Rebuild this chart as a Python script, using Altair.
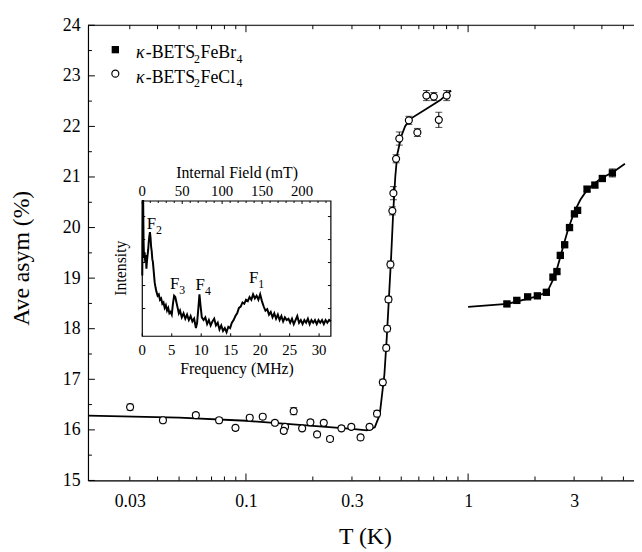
import altair as alt
import pandas as pd

FONT = "Liberation Serif"

# ---------------- data ----------------
# kappa-BETS2FeCl4 (open circles)
cl_T = [0.0301, 0.0423, 0.0595, 0.0757, 0.0897, 0.104, 0.119, 0.135, 0.150, 0.148,
        0.164, 0.179, 0.195, 0.209, 0.224, 0.239, 0.269, 0.298, 0.328, 0.360,
        0.389, 0.413, 0.428, 0.432, 0.438, 0.447, 0.456, 0.461, 0.474, 0.490,
        0.541, 0.591, 0.649, 0.701, 0.738, 0.801]
cl_A = [16.45, 16.19, 16.29, 16.19, 16.04, 16.24, 16.26, 16.14, 16.06, 15.98,
        16.37, 16.03, 16.15, 15.91, 16.14, 15.82, 16.03, 16.06, 15.85, 16.06,
        16.32, 16.94, 17.62, 18.00, 18.58, 19.27, 20.33, 20.68, 21.36, 21.76,
        22.12, 21.88, 22.61, 22.59, 22.13, 22.61]
cl_err = [0.06, 0.05, 0.05, 0.05, 0.05, 0.05, 0.05, 0.05, 0.05, 0.05,
          0.07, 0.05, 0.05, 0.05, 0.05, 0.05, 0.05, 0.05, 0.05, 0.05,
          0.06, 0.06, 0.06, 0.06, 0.06, 0.07, 0.08, 0.13, 0.08, 0.13,
          0.08, 0.08, 0.10, 0.08, 0.15, 0.10]

# kappa-BETS2FeBr4 (filled squares)
br_T = [1.495, 1.656, 1.853, 2.05, 2.25, 2.41, 2.51, 2.60, 2.72, 2.86,
        3.01, 3.11, 3.43, 3.72, 4.02, 4.46]
br_A = [18.49, 18.56, 18.63, 18.65, 18.72, 19.02, 19.13, 19.45, 19.66, 20.00,
        20.27, 20.34, 20.76, 20.84, 20.97, 21.08]
br_err = [0.04, 0.04, 0.04, 0.04, 0.04, 0.04, 0.04, 0.04, 0.04, 0.04,
          0.05, 0.05, 0.05, 0.05, 0.05, 0.08]

# fitted curves
clfit_T = [0.01945, 0.05, 0.1, 0.2, 0.3, 0.35, 0.38, 0.40, 0.42, 0.43, 0.44, 0.45,
           0.46, 0.47, 0.48, 0.50, 0.52, 0.55, 0.65, 0.75, 0.838]
clfit_A = [16.28, 16.24, 16.18, 16.08, 16.02, 15.99, 16.05, 16.30, 17.10, 17.80,
           18.60, 19.40, 20.30, 21.00, 21.45, 21.80, 22.00, 22.15, 22.35, 22.52, 22.71]
brfit_T = [1.0, 1.5, 2.0, 2.2, 2.3, 2.4, 2.5, 2.6, 2.7, 2.8, 2.9, 3.0, 3.2, 3.4,
           3.7, 4.0, 4.5, 5.08]
brfit_A = [18.43, 18.49, 18.63, 18.70, 18.78, 18.95, 19.15, 19.42, 19.68, 19.92,
           20.12, 20.30, 20.55, 20.72, 20.87, 20.98, 21.10, 21.26]

# inset spectrum: frequency (MHz) and intensity (arb., 0..100 of panel)
spec_f = [0.0, 0.08, 0.15, 0.22, 0.3, 0.4, 0.5, 0.6, 0.7, 0.8, 0.9, 1.0, 1.1, 1.2,
          1.3, 1.4, 1.5, 1.6, 1.7, 1.8, 1.9, 2.0, 2.1, 2.25, 2.4, 2.6, 2.8, 3.0,
          3.2, 3.4, 3.6, 3.8, 4.0, 4.2, 4.4, 4.6, 4.8, 5.0, 5.2, 5.4, 5.6, 5.8,
          6.0, 6.2, 6.4, 6.7, 7.0, 7.3, 7.6, 7.9, 8.2, 8.5, 8.8, 9.1, 9.3, 9.5,
          9.7, 9.9, 10.1, 10.4, 10.7, 11.0, 11.3, 11.6, 11.9, 12.2, 12.5, 12.8,
          13.1, 13.4, 13.7, 14.0, 14.3, 14.6, 14.9, 15.2, 15.5, 15.8, 16.1, 16.4,
          16.7, 17.0, 17.3, 17.6, 17.9, 18.2, 18.5, 18.8, 19.1, 19.4, 19.7, 20.0,
          20.3, 20.6, 20.9, 21.2, 21.5, 21.8, 22.1, 22.4, 22.7, 23.0, 23.3, 23.6,
          23.9, 24.2, 24.5, 24.8, 25.1, 25.4, 25.7, 26.0, 26.3, 26.6, 26.9, 27.2,
          27.5, 27.8, 28.1, 28.4, 28.7, 29.0, 29.3, 29.6, 29.9, 30.2, 30.5, 30.8,
          31.1, 31.4, 31.7, 32.0]
spec_I = [45, 100, 100, 70, 58, 62, 55, 60, 50, 56, 60, 64, 70, 74,
          77, 73, 66, 63, 57, 55, 50, 45, 40, 36, 33, 30, 31, 27,
          28, 24, 25, 21, 23, 19, 21, 17, 18, 16, 24, 30, 29, 25,
          21, 17, 19, 14, 17, 13, 16, 12, 15, 11, 13, 6, 10, 20,
          31, 22, 14, 12, 14, 9, 12, 8, 11, 13, 8, 10,
          5, 8, 4, 6, 3, 7, 6, 10, 12, 15, 17, 21,
          22, 25, 24, 27, 26, 29, 27, 31, 28, 30, 27, 31,
          26, 22, 19, 20, 16, 18, 14, 17, 13, 16, 12, 15,
          11, 14, 12, 13, 10, 13, 9, 12, 15, 10, 12, 9,
          12, 10, 13, 9, 12, 10, 12, 9, 12, 10, 12, 9,
          12, 10, 12, 11]

# axis ticks
x_labels = [0.03, 0.1, 0.3, 1, 3]
x_long = [0.1, 1]
x_short = [0.03, 0.04, 0.05, 0.06, 0.07, 0.08, 0.09, 0.2, 0.3, 0.4, 0.5, 0.6,
           0.7, 0.8, 0.9, 2, 3, 4, 5]
y_long = [15, 16, 17, 18, 19, 20, 21, 22, 23, 24]
y_short = [15.5, 16.5, 17.5, 18.5, 19.5, 20.5, 21.5, 22.5, 23.5]

inset_f_labels = [0, 5, 10, 15, 20, 25, 30]
inset_mT_labels = [0, 50, 100, 150, 200]
inset_mT_ticks = [10, 20, 30, 40, 60, 70, 80, 90, 110, 120, 130, 140, 160, 170,
                  180, 190, 210, 220, 230]
inset_I_ticks = [20.5, 37.5, 54.5, 71.5, 88.5]

W, H = 553, 461
XDOM = [0.01945, 5.58]
YDOM = [15, 24]

xs = alt.Scale(type="log", domain=XDOM, nice=False)
ys = alt.Scale(domain=YDOM, nice=False, zero=False)

cl = pd.DataFrame({"T": cl_T, "A": cl_A, "e": cl_err})
cl["lo"] = cl["A"] - cl["e"]
cl["hi"] = cl["A"] + cl["e"]
br = pd.DataFrame({"T": br_T, "A": br_A, "e": br_err})
br["lo"] = br["A"] - br["e"]
br["hi"] = br["A"] + br["e"]

xaxis = alt.Axis(orient="bottom", values=x_labels, format="~g", ticks=False, grid=False,
                 labelFont=FONT, labelFontSize=18, labelColor="black", labelPadding=12,
                 domainColor="black", domainWidth=1.2, title=None)
yaxis = alt.Axis(orient="left", values=y_long, format="d", ticks=False, grid=False,
                 labelFont=FONT, labelFontSize=18, labelColor="black", labelPadding=8,
                 domainColor="black", domainWidth=1.2, title=None)

base_x = alt.X("T:Q", scale=xs, axis=xaxis)
base_y = alt.Y("A:Q", scale=ys, axis=yaxis)


def fit_line(T, A):
    return alt.Chart(pd.DataFrame({"T": T, "A": A})).mark_line(
        color="black", strokeWidth=1.8).encode(x=base_x, y=base_y)


def errbars(df):
    r = alt.Chart(df).mark_rule(color="black", strokeWidth=1).encode(
        x=alt.X("T:Q", scale=xs), y=alt.Y("lo:Q", scale=ys), y2="hi:Q")
    t1 = alt.Chart(df).mark_tick(orient="horizontal", size=7, thickness=1, color="black").encode(
        x=alt.X("T:Q", scale=xs), y=alt.Y("hi:Q", scale=ys))
    t2 = alt.Chart(df).mark_tick(orient="horizontal", size=7, thickness=1, color="black").encode(
        x=alt.X("T:Q", scale=xs), y=alt.Y("lo:Q", scale=ys))
    return [r, t1, t2]


def xticks(vals, length):
    d = pd.DataFrame({"T": vals})
    b = alt.Chart(d).mark_rule(color="black", strokeWidth=1).encode(
        x=alt.X("T:Q", scale=xs), y=alt.value(H), y2=alt.value(H - length))
    t = alt.Chart(d).mark_rule(color="black", strokeWidth=1).encode(
        x=alt.X("T:Q", scale=xs), y=alt.value(0), y2=alt.value(length))
    return [b, t]


def yticks(vals, length):
    d = pd.DataFrame({"A": vals})
    return alt.Chart(d).mark_rule(color="black", strokeWidth=1).encode(
        y=alt.Y("A:Q", scale=ys), x=alt.value(0), x2=alt.value(length))


one = pd.DataFrame({"k": [0]})


def txt(text, x, y, size, italic=False, align="left", baseline="alphabetic", angle=0):
    kw = dict(text=text, font=FONT, fontSize=size, color="black", align=align,
              baseline=baseline)
    if italic:
        kw["fontStyle"] = "italic"
    if angle:
        kw["angle"] = angle
    return alt.Chart(one).mark_text(**kw).encode(x=alt.value(x), y=alt.value(y))


top_border = alt.Chart(one).mark_rule(color="black", strokeWidth=1.2).encode(
    x=alt.value(0), x2=alt.value(W), y=alt.value(0))

circles = alt.Chart(cl).mark_point(shape="circle", filled=True, fill="white",
                                   stroke="black", strokeWidth=1.2, size=50,
                                   opacity=1).encode(x=base_x, y=base_y)
squares = alt.Chart(br).mark_square(size=55, color="black", opacity=1).encode(
    x=base_x, y=base_y)

legend_layers = [
    alt.Chart(one).mark_square(size=55, color="black", opacity=1).encode(
        x=alt.value(27.7), y=alt.value(24.7)),
    alt.Chart(one).mark_point(shape="circle", filled=True, fill="white", stroke="black",
                              strokeWidth=1.2, size=50, opacity=1).encode(
        x=alt.value(27.7), y=alt.value(49)),
]
for yb, comp in [(33, "FeBr"), (58, "FeCl")]:
    legend_layers += [
        txt("κ", 48.7, yb, 18, italic=True),
        txt("-BETS", 58.5, yb, 18),
        txt("2", 107.5, yb + 5, 12),
        txt(comp, 114, yb, 18),
        txt("4", 150.5, yb + 5, 12),
    ]

axis_titles = [
    txt("T (K)", 281, 525, 24, align="center"),
    txt("Ave asym (%)", -67, 236, 24, align="center", baseline="middle", angle=270),
]

main = alt.layer(
    fit_line(clfit_T, clfit_A),
    fit_line(brfit_T, brfit_A),
    *errbars(cl), *errbars(br),
    circles, squares,
    *xticks(x_long, 7), *xticks(x_short, 4),
    yticks(y_long, 7), yticks(y_short, 4),
    top_border,
    *legend_layers,
    *axis_titles,
)

# ---------------- inset ----------------
IX = [55, 246]
IY = [315, 178]
fs = alt.Scale(domain=[0, 32], range=IX, nice=False, zero=False)
isc = alt.Scale(domain=[0, 100], range=IY, nice=False, zero=False)
ms = alt.Scale(domain=[0, 236.1], range=IX, nice=False, zero=False)

spec = alt.Chart(pd.DataFrame({"f": spec_f, "I": spec_I})).mark_line(
    color="black", strokeWidth=2, strokeJoin="miter").encode(
    x=alt.X("f:Q", scale=fs, axis=None), y=alt.Y("I:Q", scale=isc, axis=None))

frame = alt.Chart(pd.DataFrame({"f0": [0], "f1": [32], "i0": [0], "i1": [100]})).mark_rect(
    fill=None, stroke="black", strokeWidth=1.2).encode(
    x=alt.X("f0:Q", scale=fs, axis=None), x2="f1:Q",
    y=alt.Y("i0:Q", scale=isc, axis=None), y2="i1:Q")

fdf = pd.DataFrame({"f": inset_f_labels})
f_tick_b = alt.Chart(fdf).mark_rule(color="black", strokeWidth=1).encode(
    x=alt.X("f:Q", scale=fs, axis=None), y=alt.value(IY[0]), y2=alt.value(IY[0] - 3))
f_lab = alt.Chart(fdf).mark_text(font=FONT, fontSize=15, color="black",
                                  baseline="middle").encode(
    x=alt.X("f:Q", scale=fs, axis=None), y=alt.value(329), text=alt.Text("f:Q", format="d"))

idf = pd.DataFrame({"I": inset_I_ticks})
i_tick_l = alt.Chart(idf).mark_rule(color="black", strokeWidth=1).encode(
    y=alt.Y("I:Q", scale=isc, axis=None), x=alt.value(IX[0]), x2=alt.value(IX[0] + 3))
i_tick_r = alt.Chart(idf).mark_rule(color="black", strokeWidth=1).encode(
    y=alt.Y("I:Q", scale=isc, axis=None), x=alt.value(IX[1]), x2=alt.value(IX[1] - 3))

inset_text = [
    txt("F", 59.5, 206, 17), txt("2", 69, 211, 12),
    txt("F", 83, 267, 17), txt("3", 92.5, 272, 12),
    txt("F", 109, 268, 17), txt("4", 118.5, 273, 12),
    txt("F", 163, 261, 17), txt("1", 172.5, 266, 12),
    txt("Frequency (MHz)", 151, 348, 16, align="center", baseline="middle"),
    txt("Internal Field (mT)", 151, 150, 16, align="center", baseline="middle"),
    txt("Intensity", 34, 246, 16, align="center", baseline="middle", angle=270),
]

inset = alt.layer(spec, frame, f_tick_b, f_lab, i_tick_l, i_tick_r, *inset_text)

mdf = pd.DataFrame({"m": inset_mT_labels})
m_lab = alt.Chart(mdf).mark_text(font=FONT, fontSize=15, color="black",
                                  baseline="middle").encode(
    x=alt.X("m:Q", scale=ms, axis=None), y=alt.value(168), text=alt.Text("m:Q", format="d"))
m_tick = alt.Chart(mdf).mark_rule(color="black", strokeWidth=1).encode(
    x=alt.X("m:Q", scale=ms, axis=None), y=alt.value(IY[1]), y2=alt.value(IY[1] + 3))
m_tick2 = alt.Chart(pd.DataFrame({"m": inset_mT_ticks})).mark_rule(
    color="black", strokeWidth=1).encode(
    x=alt.X("m:Q", scale=ms, axis=None), y=alt.value(IY[1]), y2=alt.value(IY[1] + 2))
inset_top = alt.layer(m_lab, m_tick, m_tick2)

chart = alt.layer(main, inset, inset_top).resolve_scale(
    x="independent", y="independent"
).properties(
    width=W, height=H,
    padding={"left": 81, "top": 14, "right": 0, "bottom": 69},
    autosize=alt.AutoSizeParams(type="none"),
).configure_view(stroke=None).configure(background="white")

chart.save("out.html", embed_options={"renderer": "svg", "actions": False})
